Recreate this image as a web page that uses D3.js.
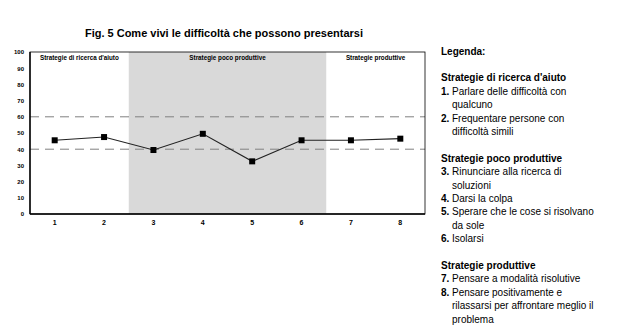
<!DOCTYPE html>
<html><head><meta charset="utf-8">
<script src="https://cdn.jsdelivr.net/npm/d3@7"></script>
<style>body{margin:0;background:#fff;}svg{display:block;font-family:"Liberation Sans",Arial,sans-serif;}</style>
</head><body>
<svg id="c" width="618" height="334"></svg>
<script>
const categories = ["1","2","3","4","5","6","7","8"];
const values = [45.5, 47.5, 39.5, 49.5, 32.5, 45.5, 45.5, 46.5];
const yTicks = [0,10,20,30,40,50,60,70,80,90,100];
const refLines = [40, 60];
const groups = [
  {name:"Strategie di ricerca d'aiuto", from:"1", to:"2", shaded:false},
  {name:"Strategie poco produttive", from:"3", to:"6", shaded:true},
  {name:"Strategie produttive", from:"7", to:"8", shaded:false}
];
const title = "Fig. 5 Come vivi le difficoltà che possono presentarsi";
const legendTitle = "Legenda:";
const legendGroups = [
  {head:"Strategie di ricerca d'aiuto", items:[["1.",["Parlare delle difficoltà con","qualcuno"]],["2.",["Frequentare persone con","difficoltà simili"]]]},
  {head:"Strategie poco produttive", items:[["3.",["Rinunciare alla ricerca di","soluzioni"]],["4.",["Darsi la colpa"]],["5.",["Sperare che le cose si risolvano","da sole"]],["6.",["Isolarsi"]]]},
  {head:"Strategie produttive", items:[["7.",["Pensare a modalità risolutive"]],["8.",["Pensare positivamente e","rilassarsi per affrontare meglio il","problema"]]]}
];

const svg = d3.select("#c");
const L = 30, R = 425, T = 52, B = 214;
const x = d3.scaleBand().domain(categories).range([L, R]);
const y = d3.scaleLinear().domain([0, 100]).range([B, T]);

svg.append("text").attr("x", 224).attr("y", 37).attr("text-anchor","middle")
  .attr("font-weight","bold").attr("font-size", 11).text(title);

// shaded groups
groups.forEach(g => {
  const x0 = x(g.from), x1 = x(g.to) + x.bandwidth();
  if (g.shaded) svg.append("rect").attr("x", x0).attr("y", T).attr("width", x1 - x0).attr("height", B - T).attr("fill", "#d9d9d9");
  svg.append("text").attr("x", (x0 + x1) / 2).attr("y", T + 7.5).attr("text-anchor","middle")
    .attr("font-weight","bold").attr("font-size", 6.3).text(g.name);
});

// reference dashed lines
svg.selectAll(".ref").data(refLines).enter().append("line")
  .attr("x1", L).attr("x2", R).attr("y1", d => y(d)).attr("y2", d => y(d))
  .attr("stroke", "#808080").attr("stroke-width", 1).attr("stroke-dasharray", "9,6");

// frame
svg.append("rect").attr("x", L).attr("y", T).attr("width", R - L).attr("height", B - T)
  .attr("fill","none").attr("stroke","#000").attr("stroke-width",0.8);
svg.append("line").attr("x1",L).attr("x2",R).attr("y1",B).attr("y2",B).attr("stroke","#000").attr("stroke-width",1.6);
svg.append("line").attr("x1",L).attr("x2",L).attr("y1",T).attr("y2",B).attr("stroke","#000").attr("stroke-width",1.4);

// axes
const yAxis = svg.append("g").attr("transform", `translate(${L},0)`)
  .call(d3.axisLeft(y).tickValues(yTicks).tickSize(0).tickPadding(6));
yAxis.select(".domain").remove();
yAxis.selectAll("text").attr("font-weight","bold").attr("font-size",6).attr("font-family","Liberation Sans, Arial, sans-serif");

const xAxis = svg.append("g").attr("transform", `translate(0,${B})`)
  .call(d3.axisBottom(x).tickSize(0).tickPadding(6));
xAxis.select(".domain").remove();
xAxis.selectAll("text").attr("font-weight","bold").attr("font-size",7).attr("font-family","Liberation Sans, Arial, sans-serif");

// line
const line = d3.line().x((d,i) => x(categories[i]) + x.bandwidth()/2).y(d => y(d));
svg.append("path").datum(values).attr("d", line).attr("fill","none").attr("stroke","#222").attr("stroke-width",1.1);
svg.selectAll(".pt").data(values).enter().append("rect")
  .attr("x", (d,i) => x(categories[i]) + x.bandwidth()/2 - 3)
  .attr("y", d => y(d) - 3).attr("width", 6).attr("height", 6).attr("fill","#000");

// legend
const lx = 441, tx = 452, step = 13.4;
let row = 0;
const lg = svg.append("g").attr("font-size", 10);
const baseY = r => 54.5 + r * step;
lg.append("text").attr("x", lx).attr("y", baseY(row)).attr("font-weight","bold").text(legendTitle);
row += 2;
legendGroups.forEach(g => {
  lg.append("text").attr("x", lx).attr("y", baseY(row)).attr("font-weight","bold").text(g.head);
  row++;
  g.items.forEach(([num, lines]) => {
    lg.append("text").attr("x", lx).attr("y", baseY(row)).attr("font-weight","bold").text(num);
    lines.forEach(t => {
      lg.append("text").attr("x", tx).attr("y", baseY(row)).text(t);
      row++;
    });
  });
  row++;
});
</script>
</body></html>
